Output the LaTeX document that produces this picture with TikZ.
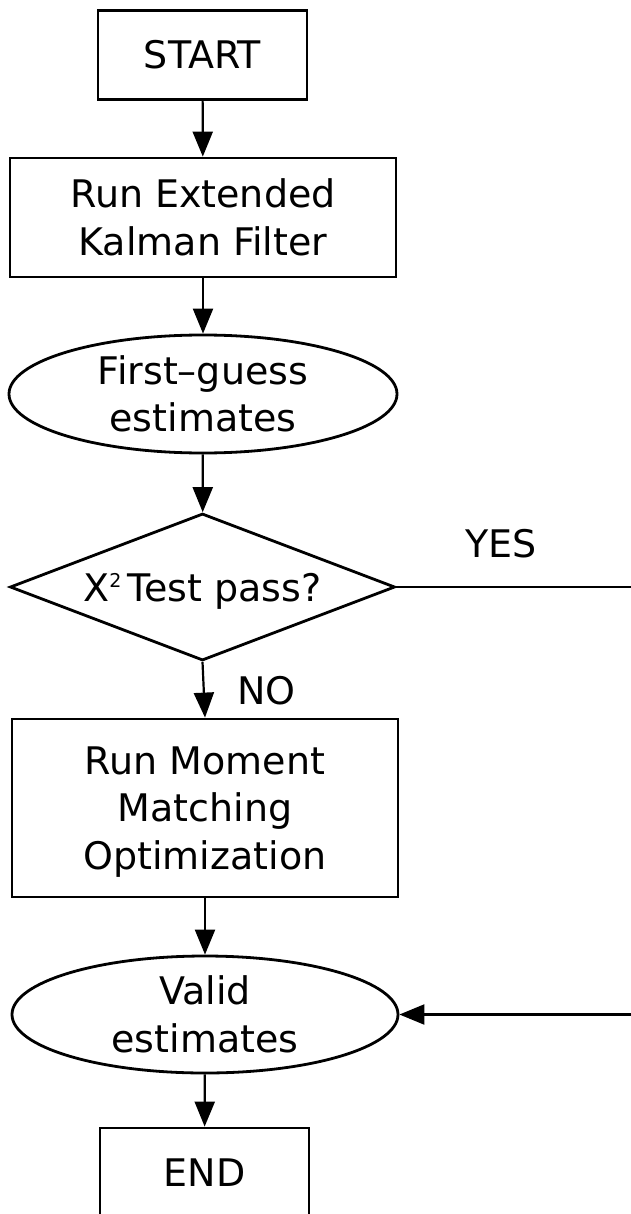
\documentclass[tikz,border=0pt]{standalone}
\usepackage{fontspec}
\setmainfont{DejaVu Sans}
\usetikzlibrary{shapes.geometric,arrows.meta}
\begin{document}
\begin{tikzpicture}[x=1pt,y=1pt,
  every node/.style={font=\fontsize{38}{47.5}\selectfont, inner sep=0pt, align=center},
  box/.style={draw, line width=2.8pt, rectangle},
  oval/.style={draw, line width=2.8pt, ellipse},
  choice/.style={draw, line width=2.8pt, diamond, aspect=2.62},
  flow/.style={line width=2.2pt, -{Triangle[length=25pt,width=20pt]}},
  wire/.style={line width=2.2pt}]
\useasboundingbox (0,0) rectangle (630,-1214);

% main column of the flow chart
\node[box, minimum width=209pt, minimum height=89pt] (start) at (202.5,-55) {START};
\node[box, minimum width=386pt, minimum height=119pt] (ekf) at (203,-217.5)
  {Run Extended\\Kalman Filter};
\node[oval, minimum width=388pt, minimum height=118pt] (guess) at (203,-394)
  {First–guess\\estimates};
\node[choice, minimum width=385pt, minimum height=147pt, text depth=0pt] (test) at (202.5,-587)
  {X\raisebox{14pt}{\fontsize{19}{19}\selectfont 2}\,Test pass?};
\node[box, minimum width=386pt, minimum height=178pt, text depth=0pt] (mm) at (205,-808)
  {Run Moment\\Matching\\Optimization};
\node[oval, minimum width=386pt, minimum height=117pt] (valid) at (205,-1014.5)
  {Valid\\estimates};
\node[box, minimum width=209pt, minimum height=89pt] (end) at (204.5,-1172.5) {END};

% branch labels
\node (yes) at (501,-543.5) {YES};
\node (no) at (266.5,-690.5) {NO};

% the YES branch leaves to the right and comes back into the valid estimates
\coordinate (yesout) at (632,-587);
\coordinate (yesin) at (632,-1014.5);

\draw[flow] (start) -- (ekf);
\draw[flow] (ekf) -- (guess);
\draw[flow] (guess) -- (test);
\draw[flow] (test.south) -- (mm.north);
\draw[flow] (mm) -- (valid);
\draw[flow] (valid) -- (end);
\draw[wire] (test.east) -- (yesout);
\draw[flow] (yesin) -- (valid.east);
\end{tikzpicture}
\end{document}
